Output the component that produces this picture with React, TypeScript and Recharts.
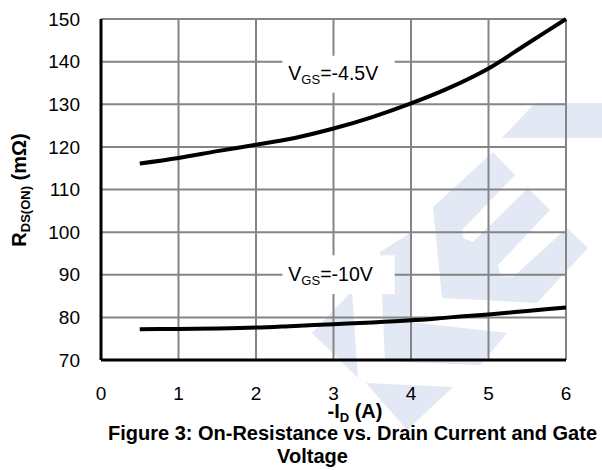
import { LineChart, Line, XAxis, YAxis, CartesianGrid, ReferenceArea } from 'recharts';

const FONT = '"Liberation Sans", Arial, sans-serif';

// -I_D (A)
const currents = [0.5, 1, 1.5, 2, 2.5, 3, 3.5, 4, 4.5, 5, 5.5, 6];
// R_DS(ON) (mOhm)
const rdsVgs45 = [116.1, 117.4, 119.0, 120.5, 122.1, 124.3, 127.0, 130.2, 133.9, 138.4, 144.2, 150];
const rdsVgs10 = [77.2, 77.3, 77.4, 77.6, 78.0, 78.4, 78.8, 79.3, 80.0, 80.7, 81.5, 82.3];

const xTicks = [0, 1, 2, 3, 4, 5, 6];
const yTicks = [70, 80, 90, 100, 110, 120, 130, 140, 150];

const curveLabels = ['=-4.5V', '=-10V'];

const data = currents.map((id, i) => ({ id, vgs45: rdsVgs45[i], vgs10: rdsVgs10[i] }));

// white label boxes, in axis units
const labelBoxes = [
  { text: curveLabels[0], x1: 2.34, x2: 3.79, y1: 132.7, y2: 141.4 },
  { text: curveLabels[1], x1: 2.34, x2: 3.79, y1: 85.5, y2: 94.6 },
];

function CurveLabel({ viewBox, text }: any) {
  const { x, y, height } = viewBox;
  const base = y + height / 2 + 6;
  return (
    <text x={x + 6} y={base} fontSize={19.5} fontFamily={FONT} fill="#000">
      V<tspan fontSize={13} dy={4}>GS</tspan><tspan dy={-4}>{text}</tspan>
    </text>
  );
}

const WM = '#e2e8f4';

export default function App() {
  return (
    <div style={{ position: 'absolute', left: 0, top: 0, width: 602, height: 470, background: '#fff' }}>
      <svg width={602} height={470} style={{ position: 'absolute', left: 0, top: 0 }}>
        {/* watermark */}
        <polygon points="502,138 535,103 602,103 602,138" fill={WM} />
        <polygon
          points="433,207 493,152 515,175 462,230 463,238 473,242 528,188 550,210 498,265 500,276 513,277 567,228 588,248 537,303 442,298"
          fill={WM}
        />
        <polygon points="312,333 352,291 358,378" fill={WM} />
        <polygon points="380,252 410,233 412,358 385,362" fill={WM} />
        <polygon points="410,322 507,333 480,365 400,362" fill={WM} />
        <polygon points="366,383 453,387 407,430" fill={WM} />

        <text transform="translate(26,190) rotate(-90)" textAnchor="middle" fontFamily={FONT} fontWeight="bold" fontSize={20} fill="#000">
          R<tspan fontSize={13} dy={4}>DS(ON)</tspan><tspan dy={-4}> (mΩ)</tspan>
        </text>
        <text x={355} y={418} textAnchor="middle" fontFamily={FONT} fontWeight="bold" fontSize={20} fill="#000">
          -I<tspan fontSize={13} dy={4}>D</tspan><tspan dy={-4}> (A)</tspan>
        </text>
        <text x={352.5} y={440} textAnchor="middle" fontFamily={FONT} fontWeight="bold" fontSize={20} fill="#000">
          Figure 3: On-Resistance vs. Drain Current and Gate
        </text>
        <text x={312.5} y={463} textAnchor="middle" fontFamily={FONT} fontWeight="bold" fontSize={20} fill="#000">
          Voltage
        </text>
      </svg>
      <div style={{ position: 'absolute', left: 0, top: 0 }}>
        <LineChart width={602} height={470} data={data} margin={{ top: 19, right: 36, bottom: 70, left: 0 }}>
          <CartesianGrid stroke="#858585" strokeWidth={2} />
          <XAxis
            type="number"
            dataKey="id"
            domain={[0, 6]}
            ticks={xTicks}
            height={40}
            tickLine={false}
            tickMargin={21}
            axisLine={{ stroke: '#000', strokeWidth: 3 }}
            tick={{ fontSize: 19, fill: '#000', fontFamily: FONT }}
          />
          <YAxis
            type="number"
            domain={[70, 150]}
            ticks={yTicks}
            width={101}
            tickLine={false}
            tickMargin={15}
            axisLine={{ stroke: '#000', strokeWidth: 3 }}
            tick={{ fontSize: 19, fill: '#000', fontFamily: FONT }}
          />
          {labelBoxes.map(b => (
            <ReferenceArea
              key={b.text}
              x1={b.x1}
              x2={b.x2}
              y1={b.y1}
              y2={b.y2}
              fill="#fff"
              fillOpacity={1}
              stroke="none"
              label={<CurveLabel text={b.text} />}
            />
          ))}
          <Line type="monotone" dataKey="vgs45" stroke="#000" strokeWidth={4} dot={false} isAnimationActive={false} />
          <Line type="monotone" dataKey="vgs10" stroke="#000" strokeWidth={4} dot={false} isAnimationActive={false} />
        </LineChart>
      </div>
    </div>
  );
}
